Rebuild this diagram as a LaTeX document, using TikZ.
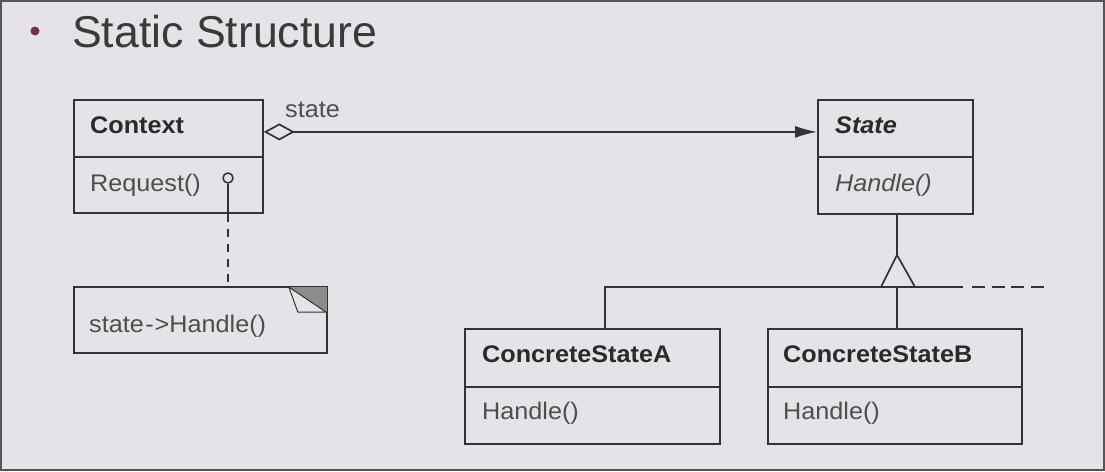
\documentclass[tikz,border=0pt]{standalone}
\usepackage{fontspec}
\setmainfont{Liberation Sans}
\newfontfamily\diagfont{Liberation Sans}[FakeStretch=1.05]
\usetikzlibrary{arrows.meta,calc}
\definecolor{bgc}{HTML}{E4E3E8}
\definecolor{ln}{HTML}{333333}
\definecolor{txd}{HTML}{2A2A2A}
\definecolor{txl}{HTML}{4E4E4E}
\definecolor{framec}{HTML}{555555}
\definecolor{bul}{HTML}{7E2A52}
\definecolor{ear}{HTML}{8C8C8C}
\definecolor{titlec}{HTML}{3A3A3A}
\tikzset{
  cls/.style={draw=ln, line width=1.8pt, fill=bgc, anchor=north west, inner sep=0pt},
  nm/.style={anchor=base west, inner sep=0pt, text=txd, font=\diagfont\fontsize{24}{28}\selectfont\bfseries},
  op/.style={anchor=base west, inner sep=0pt, text=txl, font=\diagfont\fontsize{24}{28}\selectfont},
  conn/.style={draw=ln, line width=1.7pt},
}
\begin{document}
\begin{tikzpicture}[x=1pt,y=-1pt]
\useasboundingbox (0,0) rectangle (1105,471);
\fill[bgc] (0,0) rectangle (1105,471);
\draw[framec, line width=2pt] (1,1) rectangle (1104,470);

% title
\node[circle, fill=bul, minimum size=9pt, inner sep=0pt] (bullet) at (35,31) {};
\node[anchor=base west, inner sep=0pt, text=titlec, font=\fontsize{44.6}{50}\selectfont] (title) at (72,47) {Static Structure};

% class boxes
\node[cls, minimum width=189pt, minimum height=57pt] (ctxname) at (73,99) {};
\node[cls, minimum width=189pt, minimum height=56pt] (ctxops) at (73,156) {};
\node[cls, minimum width=253pt, minimum height=66pt] (note) at (73,286) {};
\node[cls, minimum width=155pt, minimum height=57pt] (statename) at (817,99) {};
\node[cls, minimum width=155pt, minimum height=57pt] (statemeth) at (817,156) {};
\node[cls, minimum width=255pt, minimum height=58pt] (csaname) at (464,328) {};
\node[cls, minimum width=255pt, minimum height=57pt] (csaops) at (464,386) {};
\node[cls, minimum width=254pt, minimum height=58pt] (csbname) at (767,328) {};
\node[cls, minimum width=254pt, minimum height=57pt] (csbops) at (767,386) {};

% texts
\node[nm] (tctx) at (90,133) {Context};
\node[op] (treq) at (90,191) {Request()};
\node[nm, font=\diagfont\fontsize{24}{28}\selectfont\bfseries\itshape] (tstate) at (835,133) {State};
\node[op, font=\diagfont\fontsize{24}{28}\selectfont\itshape] (thandle) at (835,191) {Handle()};
\node[nm] (tcsa) at (482,362) {ConcreteStateA};
\node[op] (tcsah) at (482,419) {Handle()};
\node[nm] (tcsb) at (783,362) {ConcreteStateB};
\node[op] (tcsbh) at (783,419) {Handle()};
\node[op] (tnote) at (89,332) {state\kern1.5pt-\kern1pt>Handle()};
\node[op] (tlbl) at (285,117) {state};

% note dog-ear
\fill[ear] ($(note.north east)+(-39,1)$) -- ($(note.north east)+(-1,1)$) -- ($(note.north east)+(-1,26)$) -- cycle;
\draw[ln, line width=1pt, fill=bgc] ($(note.north east)+(-39,1)$) -- ($(note.north east)+(-30,26)$) -- ($(note.north east)+(-2,26)$) -- cycle;

% note link
\node[circle, draw=ln, line width=1.5pt, fill=bgc, minimum size=10pt, inner sep=0pt] (dot) at (228,178) {};
\draw[conn] (dot.south) -- (dot.south |- ctxops.south);
\draw[conn, dash pattern=on 8pt off 7pt] (dot |- ctxops.south) -- (dot |- note.north);

% association
\draw[conn, {Diamond[fill=bgc,length=31pt,width=17pt]}-{Latex[length=22pt,width=12pt]}]
  ([yshift=-3.5pt]ctxname.east) -- ([yshift=-3.5pt]statename.west);

% generalization
\coordinate (ja) at (605,287);
\coordinate (junc) at (897,287);
\coordinate (hend) at (963,287);
\coordinate (dstart) at (972,287);
\coordinate (dend) at (1048,287);
\draw[conn] (ja |- csaname.north) -- (ja) -- (hend);
\draw[conn, dash pattern=on 13pt off 6.5pt] (dstart) -- (dend);
\draw[conn] (junc) -- (junc |- csbname.north);
\draw[conn] (statemeth.south -| junc) -- ([yshift=32pt]junc);
\draw[conn, fill=bgc] ([xshift=-16pt]junc) -- ([yshift=32pt]junc) -- ([xshift=18pt]junc) -- cycle;
\end{tikzpicture}
\end{document}
